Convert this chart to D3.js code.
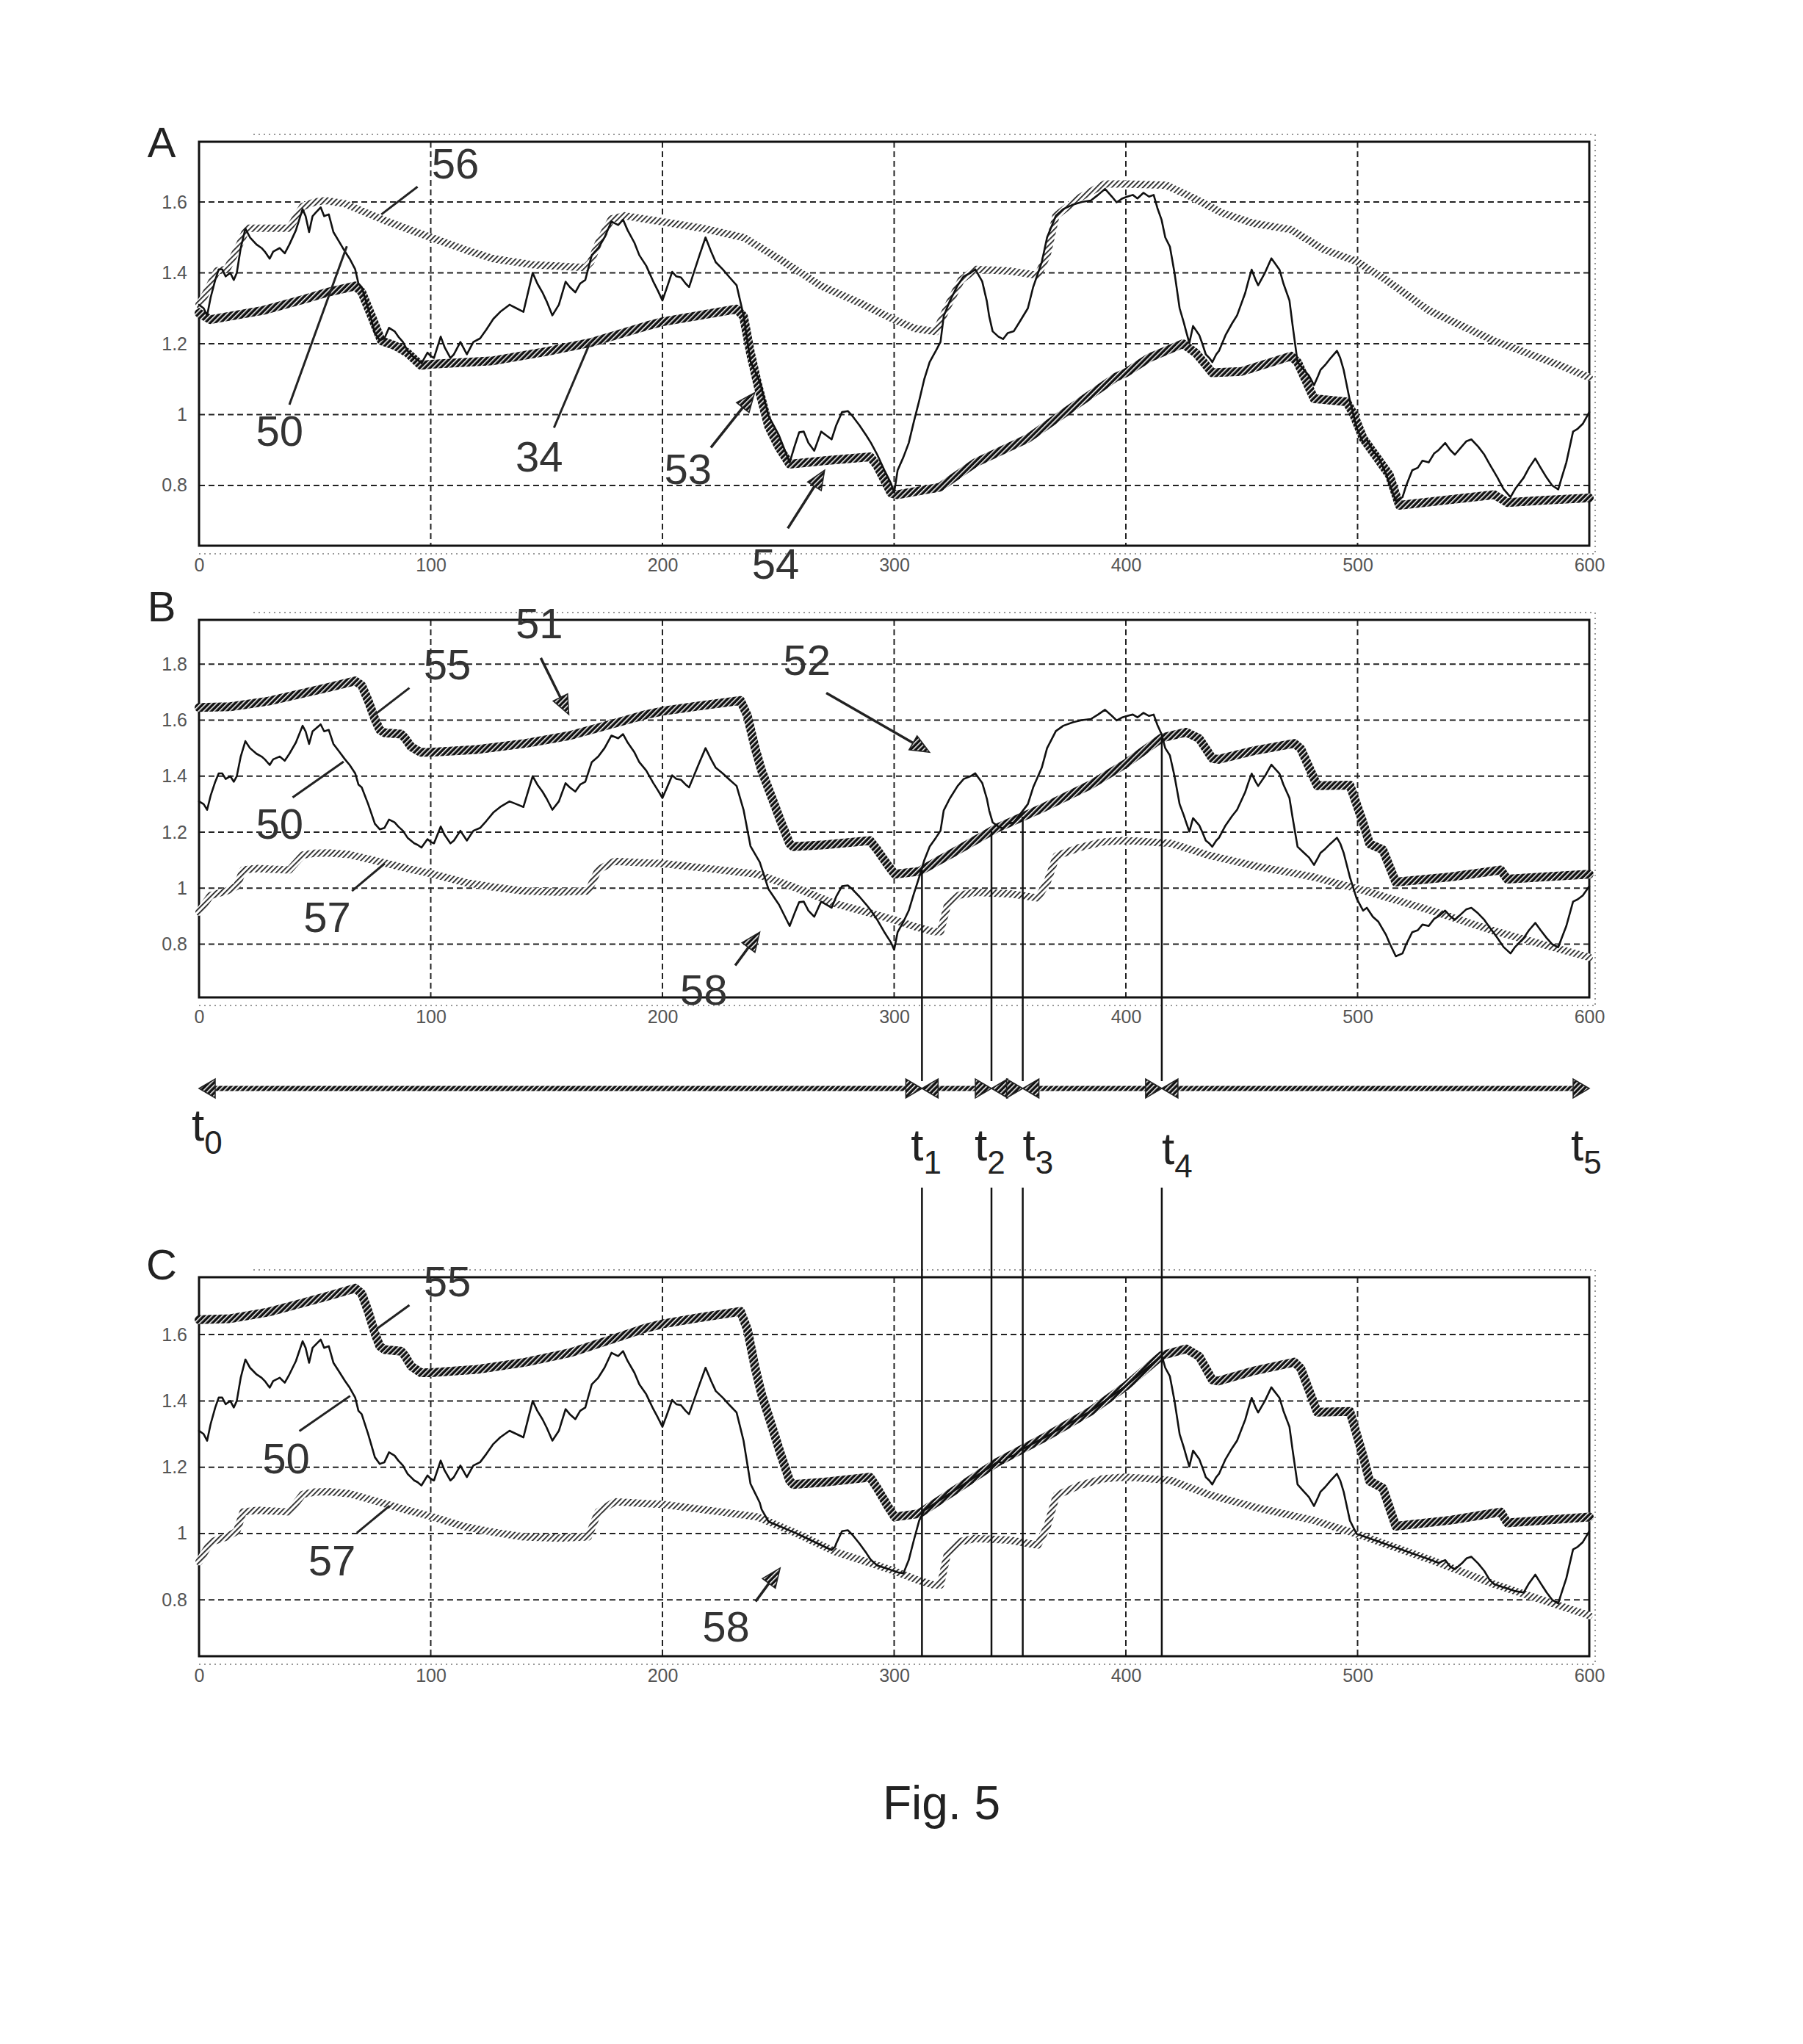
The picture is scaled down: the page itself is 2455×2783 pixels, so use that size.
<!DOCTYPE html>
<html>
<head>
<meta charset="utf-8">
<script src="https://cdn.jsdelivr.net/npm/d3@7"></script>
<style>
  body { margin: 0; background: #fff; }
</style>
</head>
<body>
<div id="fig5"></div>
<script>
// ---- data ----
var xTicks = [0, 100, 200, 300, 400, 500, 600];
var yTicksA = [0.8, 1, 1.2, 1.4, 1.6];
var yTicksB = [0.8, 1, 1.2, 1.4, 1.6, 1.8];
var yTicksC = [0.8, 1, 1.2, 1.4, 1.6];

// time markers t0..t5 (x units)
var tMarks = [0, 312, 342, 355.5, 415.5, 600];
var tNames = ["0", "1", "2", "3", "4", "5"];

// 50: price signal
var price50 = [[0,1.31],[2,1.30],[3.5,1.28],[5,1.33],[7,1.38],[8.5,1.41],[10,1.41],[11.5,1.39],[13.5,1.40],[15,1.38],[16.3,1.40],
  [18,1.47],[20,1.525],[22,1.50],[24.8,1.48],[27,1.47],[28.4,1.46],[30.5,1.44],[32,1.46],[34.8,1.47],[37,1.455],[39,1.48],
  [41.8,1.52],[44.7,1.58],[46,1.56],[47.5,1.515],[49,1.56],[50.4,1.57],[52.5,1.585],[54,1.56],[56,1.565],[58,1.515],
  [60.3,1.49],[63,1.46],[65,1.44],[67.4,1.41],[68.8,1.37],[70.2,1.36],[73,1.30],[75.9,1.23],[78,1.21],[80,1.215],[82,1.245],
  [84.4,1.235],[86,1.22],[88,1.205],[90,1.18],[92.9,1.16],[94.3,1.155],[96,1.145],[98.6,1.175],[100,1.165],[101.4,1.16],
  [104.3,1.22],[106,1.19],[108.5,1.16],[110,1.17],[112.8,1.205],[115.6,1.17],[118.4,1.205],[121.3,1.215],[124,1.24],
  [127,1.27],[130,1.29],[134,1.31],[137,1.30],[140,1.29],[144,1.40],[146,1.37],[148.2,1.345],[150,1.32],[152.5,1.28],
  [155.3,1.31],[158.2,1.375],[160,1.36],[162.4,1.345],[164.5,1.37],[166.7,1.38],[169.5,1.45],[172.3,1.47],[175,1.50],
  [178,1.545],[180.9,1.535],[183,1.55],[185,1.52],[187.9,1.485],[190,1.45],[193,1.42],[196,1.376],[198,1.35],[200,1.322],
  [202,1.36],[204.2,1.403],[206,1.39],[208,1.387],[210,1.37],[211.5,1.36],[214,1.41],[216,1.45],[218.6,1.50],[221,1.46],
  [223,1.43],[226,1.41],[229,1.387],[232,1.365],[235,1.28],[238,1.15],[242,1.093],[245.8,0.996],[250.3,0.941],[254.9,0.865],
  [257,0.91],[259,0.95],[261,0.952],[263,0.92],[265.5,0.898],[268.5,0.952],[271,0.94],[273,0.93],[275,0.97],[277.5,1.007],
  [280,1.01],[282,0.996],[285,0.97],[288,0.941],[290,0.92],[292.7,0.887],[296,0.84],[298.7,0.805],[300,0.78],[301.5,0.843],
  [304,0.88],[306.3,0.92],[308.5,0.98],[310.8,1.039],[313,1.10],[315.3,1.148],[318,1.18],[320,1.205],[321.4,1.278],
  [324,1.32],[327.4,1.365],[330,1.39],[333,1.40],[335,1.41],[338,1.376],[340,1.32],[341,1.278],[342.5,1.235],[345,1.22],
  [347,1.213],[349,1.23],[351.6,1.235],[354,1.26],[357.7,1.30],[360,1.36],[363.7,1.43],[366,1.50],[369.8,1.561],[373,1.58],
  [377.3,1.593],[381,1.60],[384.9,1.604],[388,1.62],[391,1.637],[394,1.615],[396,1.599],[398.5,1.61],[400.6,1.615],
  [403,1.62],[405,1.61],[407.6,1.626],[410,1.615],[412,1.62],[413.6,1.583],[415.4,1.55],[417,1.50],[419,1.474],[421,1.40],
  [423.2,1.30],[425,1.26],[426,1.235],[427.4,1.202],[429,1.25],[431.7,1.224],[433,1.20],[434.5,1.17],[436,1.16],
  [437.3,1.148],[439,1.17],[440.2,1.18],[443,1.224],[445.8,1.257],[448,1.28],[451.5,1.343],[453,1.38],[454.3,1.409],
  [456,1.38],[457.1,1.365],[460,1.40],[462.8,1.441],[464,1.43],[466.3,1.409],[468,1.37],[470.6,1.322],[472,1.25],
  [474.1,1.148],[476.9,1.126],[479,1.11],[481.2,1.083],[483,1.11],[484,1.126],[486,1.14],[488.3,1.159],[491.1,1.18],
  [492.5,1.16],[494,1.126],[496.7,1.039],[499.6,0.963],[502.4,0.92],[504,0.93],[506.6,0.898],[509,0.88],[512.3,0.833],
  [514,0.80],[516.5,0.757],[519.4,0.767],[521,0.80],[523.6,0.843],[526,0.85],[528,0.87],[530.7,0.865],[533,0.89],
  [535,0.90],[537.8,0.92],[540,0.90],[542,0.887],[545,0.91],[547,0.925],[549.1,0.93],[552,0.91],[554.7,0.887],[557,0.86],
  [560.4,0.822],[563,0.79],[566,0.767],[568,0.79],[571.7,0.822],[574,0.85],[576.7,0.876],[579,0.85],[581.6,0.822],
  [584,0.80],[586.6,0.789],[588,0.82],[590.1,0.865],[593,0.952],[595,0.96],[597.2,0.974],[600,1.007]];

// 56: upper envelope (panel A)
var upper56 = [[0,1.311],[2,1.33],[7.8,1.406],[12,1.41],[17.7,1.483],[20.6,1.526],[39,1.526],[44.7,1.587],[50,1.6],
  [54.6,1.604],[63,1.595],[72,1.57],[81.6,1.544],[100,1.50],[115,1.465],[127,1.44],[144,1.423],[166.7,1.415],[169,1.43],
  [172.3,1.483],[178,1.552],[183.8,1.561],[200,1.544],[217,1.526],[235,1.50],[250.3,1.44],[268.5,1.363],[286.6,1.311],
  [300,1.268],[309,1.243],[318,1.234],[322.9,1.303],[328.9,1.38],[335,1.41],[350,1.405],[362,1.393],[366,1.45],
  [369.8,1.561],[380.3,1.613],[390.9,1.651],[400,1.651],[417.5,1.647],[429,1.612],[441.6,1.569],[455,1.54],[471.3,1.522],
  [485.4,1.466],[499.6,1.432],[512.3,1.38],[530.7,1.294],[559,1.208],[587.3,1.139],[600,1.105]];

// 34: lower stop line (panel A)
var lower34 = [[0,1.286],[5,1.268],[27.7,1.294],[45,1.325],[56,1.346],[67.4,1.363],[70.2,1.346],[74.5,1.277],[78.7,1.208],
  [84.4,1.195],[90,1.174],[95.7,1.139],[100,1.142],[127,1.152],[150,1.178],[169.5,1.204],[193,1.25],[200,1.262],[232,1.298],
  [235,1.277],[238,1.174],[241,1.088],[245.8,0.967],[250.3,0.907],[254.9,0.86],[270,0.87],[289.7,0.881],[292.7,0.855],
  [298.7,0.778],[301.5,0.774],[319.7,0.795],[335,0.864],[357.7,0.933],[372.8,1.002],[395.5,1.105],[400,1.118],[410,1.16],
  [424.6,1.2],[430.2,1.174],[437.3,1.118],[450,1.122],[471.3,1.165],[474.1,1.148],[481.2,1.045],[495.3,1.036],[498.2,1.002],
  [502.4,0.933],[513.7,0.83],[518,0.744],[540,0.76],[559,0.774],[564.6,0.752],[580,0.758],[600,0.765]];

// 55: upper band (panels B, C)
var upper55 = [[0,1.645],[13.5,1.648],[30,1.668],[41.8,1.69],[55,1.715],[67.4,1.74],[70.2,1.724],[73,1.67],[75.9,1.604],
  [78,1.565],[80,1.555],[87.2,1.55],[89,1.535],[91.5,1.505],[95.7,1.485],[100,1.485],[120,1.495],[141,1.517],[160,1.545],
  [180,1.59],[193,1.62],[200,1.632],[215,1.65],[233.7,1.67],[236.7,1.615],[240,1.50],[242.8,1.42],[247.3,1.322],[251,1.24],
  [254.9,1.159],[256.4,1.148],[270,1.155],[289.6,1.17],[292.7,1.137],[297.2,1.083],[300.2,1.05],[310.8,1.06],[325,1.125],
  [344,1.213],[365,1.29],[385,1.37],[400,1.445],[415.5,1.537],[426,1.557],[431.7,1.534],[437.3,1.463],[440,1.46],
  [455,1.49],[472.7,1.517],[475.5,1.498],[482.6,1.366],[496.7,1.368],[502.4,1.233],[505.2,1.158],[510.9,1.137],
  [516.5,1.022],[540,1.04],[561.8,1.065],[564.6,1.032],[580,1.04],[600,1.05]];

// 57: lower band (panels B, C)
var lower57 = [[0,0.915],[5,0.974],[12,0.99],[16.3,1.007],[19,1.065],[25,1.07],[39,1.065],[44.7,1.118],[50,1.125],
  [56,1.126],[65,1.12],[78.7,1.093],[90,1.07],[100,1.052],[115,1.02],[127,1.004],[140,0.99],[155,0.986],[168,0.99],
  [172.3,1.066],[179.4,1.096],[193,1.09],[200,1.088],[220,1.07],[241,1.05],[258,1.0],[274.5,0.945],[290,0.91],[300,0.887],
  [310,0.86],[316.9,0.845],[320,0.845],[323,0.94],[328,0.975],[335,0.985],[350,0.98],[362,0.965],[366,1.02],[370,1.115],
  [380,1.145],[390,1.165],[398.5,1.17],[405,1.168],[419.5,1.16],[436,1.117],[457,1.077],[481,1.04],[500,0.998],[531,0.922],
  [559,0.847],[586,0.785],[600,0.753]];

// ---- page setup ----
var width = 2455, height = 2783;
var svg = d3.select("#fig5").append("svg")
  .attr("width", width)
  .attr("height", height)
  .style("background-color", "#fff");

var FONT = "'Liberation Sans', Arial, sans-serif";

// hatch patterns for the thick lines (the print is halftoned)
var defs = svg.append("defs");
var pd = defs.append("pattern").attr("id", "hatchDark").attr("patternUnits", "userSpaceOnUse")
  .attr("width", 5).attr("height", 5).attr("patternTransform", "rotate(45)");
pd.append("rect").attr("width", 5).attr("height", 5).attr("fill", "#111");
pd.append("rect").attr("width", 1.5).attr("height", 5).attr("fill", "#fff");
var pl = defs.append("pattern").attr("id", "hatchLight").attr("patternUnits", "userSpaceOnUse")
  .attr("width", 5).attr("height", 5).attr("patternTransform", "rotate(45)");
pl.append("rect").attr("width", 5).attr("height", 5).attr("fill", "#fff");
pl.append("rect").attr("width", 1.8).attr("height", 5).attr("fill", "#222");

var x = d3.scaleLinear().domain([0, 600]).range([271, 2164]);

// simple linear interpolation inside a series of [x, y]
var bis = d3.bisector(function (d) { return d[0]; }).left;
function valueAt(series, xv) {
  var i = bis(series, xv);
  if (i <= 0) return series[0][1];
  if (i >= series.length) return series[series.length - 1][1];
  var a = series[i - 1], b = series[i];
  return a[1] + (b[1] - a[1]) * (xv - a[0]) / (b[0] - a[0]);
}

// panel: frame, grid, tick labels
function makePanel(top, bottom, yDomain, yTicks, letter, letterDy) {
  var y = d3.scaleLinear().domain(yDomain).range([bottom, top]);
  var g = svg.append("g");

  // dotted figure box around the axes
  var dot = { stroke: "#777", "stroke-width": 1.5, "stroke-dasharray": "2,5" };
  function dotted(x1, y1, x2, y2) {
    var l = g.append("line").attr("x1", x1).attr("y1", y1).attr("x2", x2).attr("y2", y2);
    Object.keys(dot).forEach(function (k) { l.attr(k, dot[k]); });
  }
  dotted(345, top - 10, x(600) + 8, top - 10);
  dotted(x(0), bottom + 11, x(600) + 8, bottom + 11);
  dotted(x(600) + 8, top - 10, x(600) + 8, bottom + 11);

  // grid
  g.selectAll(".hgrid").data(yTicks).enter().append("line")
    .attr("x1", x(0)).attr("x2", x(600))
    .attr("y1", function (d) { return y(d); }).attr("y2", function (d) { return y(d); })
    .attr("stroke", "#222").attr("stroke-width", 2).attr("stroke-dasharray", "8,5");
  g.selectAll(".vgrid").data(xTicks.slice(1, -1)).enter().append("line")
    .attr("y1", top).attr("y2", bottom)
    .attr("x1", function (d) { return x(d); }).attr("x2", function (d) { return x(d); })
    .attr("stroke", "#222").attr("stroke-width", 2).attr("stroke-dasharray", "8,5");

  // border
  g.append("rect")
    .attr("x", x(0)).attr("y", top)
    .attr("width", x(600) - x(0)).attr("height", bottom - top)
    .attr("fill", "none").attr("stroke", "#111").attr("stroke-width", 3);

  // tick labels
  var ax = g.append("g").attr("transform", "translate(0," + bottom + ")")
    .call(d3.axisBottom(x).tickValues(xTicks).tickSize(0).tickPadding(17).tickFormat(d3.format("")));
  ax.select(".domain").remove();
  ax.selectAll("text").attr("font-size", 25).attr("font-family", FONT).attr("fill", "#555");

  var ay = g.append("g").attr("transform", "translate(" + x(0) + ",0)")
    .call(d3.axisLeft(y).tickValues(yTicks).tickSize(0).tickPadding(16).tickFormat(d3.format("")));
  ay.select(".domain").remove();
  ay.selectAll("text").attr("font-size", 25).attr("font-family", FONT).attr("fill", "#555");

  // panel letter
  g.append("text")
    .attr("x", 220).attr("y", top + letterDy)
    .attr("text-anchor", "middle").attr("dominant-baseline", "central")
    .attr("font-family", FONT).attr("font-size", 58).attr("fill", "#222")
    .text(letter);

  return { g: g, y: y };
}

function drawSeries(p, data, kind) {
  var line = d3.line().x(function (d) { return x(d[0]); }).y(function (d) { return p.y(d[1]); });
  var path = p.g.append("path").datum(data).attr("d", line).attr("fill", "none")
    .attr("stroke-linejoin", "round").attr("stroke-linecap", "round");
  if (kind === "dark") path.attr("stroke", "url(#hatchDark)").attr("stroke-width", 12);
  else if (kind === "light") path.attr("stroke", "url(#hatchLight)").attr("stroke-width", 10);
  else path.attr("stroke", "#111").attr("stroke-width", 2.6);
}

// reference numerals, leader lines, arrows (in data coordinates)
function annotate(p, labels, leaders, arrows) {
  labels.forEach(function (d) {
    p.g.append("text")
      .attr("x", x(d.x)).attr("y", p.y(d.y))
      .attr("text-anchor", "middle").attr("dominant-baseline", "central")
      .attr("font-family", FONT).attr("font-size", 58).attr("fill", "#333")
      .text(d.t);
  });
  leaders.forEach(function (d) {
    p.g.append("line")
      .attr("x1", x(d[0])).attr("y1", p.y(d[1])).attr("x2", x(d[2])).attr("y2", p.y(d[3]))
      .attr("stroke", "#222").attr("stroke-width", 3);
  });
  arrows.forEach(function (d) {
    var x1 = x(d[0]), y1 = p.y(d[1]), x2 = x(d[2]), y2 = p.y(d[3]);
    var ang = Math.atan2(y2 - y1, x2 - x1), len = 26, hw = 11;
    var bx = x2 - len * Math.cos(ang), by = y2 - len * Math.sin(ang);
    p.g.append("line").attr("x1", x1).attr("y1", y1).attr("x2", bx).attr("y2", by)
      .attr("stroke", "#222").attr("stroke-width", 3.5);
    var pts = [[x2, y2],
      [bx + hw * Math.sin(ang), by - hw * Math.cos(ang)],
      [bx - hw * Math.sin(ang), by + hw * Math.cos(ang)]];
    p.g.append("polygon").attr("points", pts.map(function (q) { return q.join(","); }).join(" "))
      .attr("fill", "url(#hatchDark)").attr("stroke", "#222").attr("stroke-width", 1.5);
  });
}

// ---- panel A ----
var pA = makePanel(193, 743, [0.63, 1.77], yTicksA, "A", 0);
drawSeries(pA, upper56, "light");
drawSeries(pA, lower34, "dark");
drawSeries(pA, price50, "thin");
annotate(pA,
  [{ t: "56", x: 110.6, y: 1.709 }, { t: "50", x: 34.8, y: 0.954 }, { t: "34", x: 146.8, y: 0.881 },
   { t: "53", x: 211, y: 0.847 }, { t: "54", x: 248.8, y: 0.58 }],
  [[94.3, 1.643, 78.7, 1.565], [39, 1.028, 63.8, 1.475], [153.2, 0.963, 168.8, 1.204]],
  [[220.9, 0.907, 239.8, 1.062], [254.1, 0.679, 270, 0.843]]);

// ---- panel B ----
var pB = makePanel(844, 1358, [0.61, 1.958], yTicksB, "B", -19);
drawSeries(pB, lower57, "light");
drawSeries(pB, upper55, "dark");
drawSeries(pB, price50, "thin");
annotate(pB,
  [{ t: "55", x: 107.1, y: 1.80 }, { t: "51", x: 146.8, y: 1.947 }, { t: "50", x: 34.8, y: 1.229 },
   { t: "57", x: 55.3, y: 0.898 }, { t: "52", x: 262.4, y: 1.816 }, { t: "58", x: 217.8, y: 0.637 }],
  [[90.8, 1.715, 75.9, 1.62], [40.4, 1.324, 62.4, 1.452], [66, 0.99, 80.1, 1.088]],
  [[147.5, 1.822, 159.6, 1.62], [270.7, 1.697, 315.3, 1.485], [231.4, 0.724, 242, 0.843]]);

// ---- panel C: price held inside the band 57..55 ----
var pC = makePanel(1739, 2255, [0.63, 1.773], yTicksC, "C", -18);
var xsC = d3.sort(Array.from(new Set(price50.map(function (d) { return d[0]; })
  .concat(upper55.map(function (d) { return d[0]; }), lower57.map(function (d) { return d[0]; })))));
var bandedC = xsC.map(function (xv) {
  var v = valueAt(price50, xv);
  v = Math.min(valueAt(upper55, xv), Math.max(valueAt(lower57, xv), v));
  return [xv, v];
});
drawSeries(pC, lower57, "light");
drawSeries(pC, upper55, "dark");
drawSeries(pC, bandedC, "thin");
annotate(pC,
  [{ t: "55", x: 107.1, y: 1.761 }, { t: "50", x: 37.6, y: 1.228 }, { t: "57", x: 57.4, y: 0.92 },
   { t: "58", x: 227.4, y: 0.719 }],
  [[90.8, 1.689, 76.6, 1.617], [43.3, 1.309, 65.2, 1.415], [68.1, 1.002, 82.3, 1.084]],
  [[240.2, 0.795, 250.8, 0.896]]);

// ---- time markers between B and C ----
var tl = svg.append("g");
var yArrow = 1482;

// vertical marker lines t1..t4
tMarks.slice(1, -1).forEach(function (t) {
  tl.append("line").attr("x1", x(t)).attr("x2", x(t))
    .attr("y1", pB.y(valueAt(upper55, t))).attr("y2", yArrow - 10)
    .attr("stroke", "#111").attr("stroke-width", 2.5);
  tl.append("line").attr("x1", x(t)).attr("x2", x(t))
    .attr("y1", 1617).attr("y2", 2255)
    .attr("stroke", "#111").attr("stroke-width", 2.5);
});

// double arrows between consecutive markers
d3.pairs(tMarks).forEach(function (pr) {
  var a = x(pr[0]), b = x(pr[1]), hl = 22, hw = 13;
  tl.append("line").attr("x1", a + hl - 2).attr("x2", b - hl + 2)
    .attr("y1", yArrow).attr("y2", yArrow)
    .attr("stroke", "url(#hatchDark)").attr("stroke-width", 7);
  [[a, 1], [b, -1]].forEach(function (h) {
    var tip = h[0], s = h[1];
    tl.append("polygon")
      .attr("points", [[tip, yArrow], [tip + s * hl, yArrow - hw], [tip + s * hl, yArrow + hw]]
        .map(function (q) { return q.join(","); }).join(" "))
      .attr("fill", "url(#hatchDark)").attr("stroke", "#222").attr("stroke-width", 1.5);
  });
});

// t labels
var tDx = [-10, -15, -23, 0, 0, -25];
var tBase = [1553, 1580, 1580, 1580, 1585, 1580];
tMarks.forEach(function (t, i) {
  var txt = tl.append("text")
    .attr("x", x(t) + tDx[i]).attr("y", tBase[i])
    .attr("font-family", FONT).attr("font-size", 62).attr("fill", "#222");
  txt.append("tspan").text("t");
  txt.append("tspan").attr("font-size", 44).attr("dy", 18).text(tNames[i]);
});

// caption
svg.append("text")
  .attr("x", 1282).attr("y", 2477)
  .attr("text-anchor", "middle")
  .attr("font-family", FONT).attr("font-size", 64).attr("fill", "#222")
  .text("Fig. 5");
</script>
</body>
</html>
